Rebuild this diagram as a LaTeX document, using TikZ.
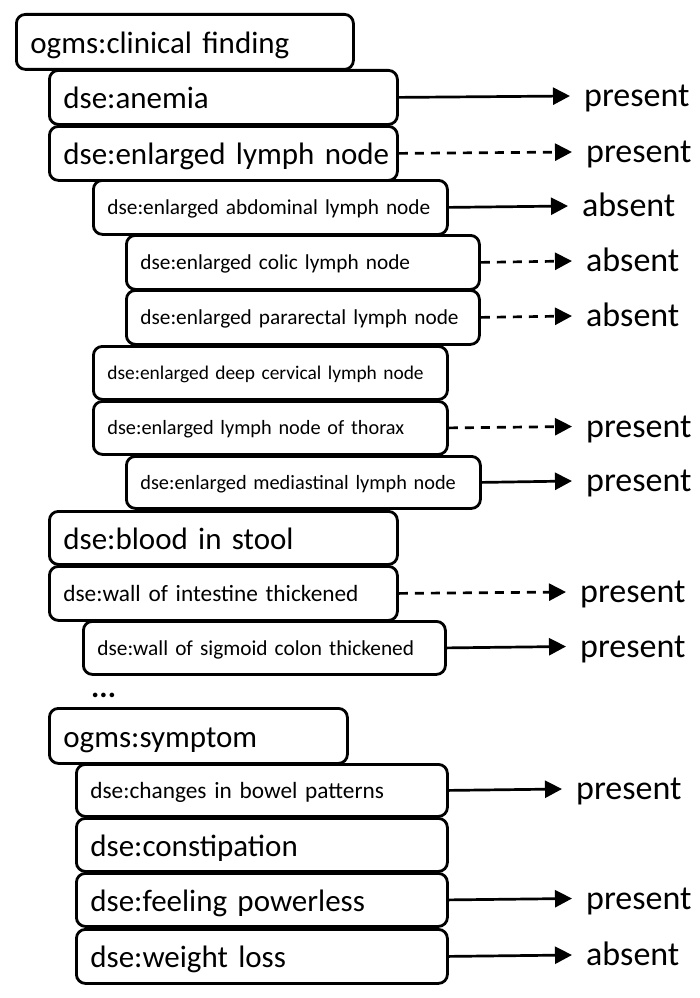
\documentclass[tikz,border=0pt]{standalone}
\usepackage{fontspec}
\setmainfont{Carlito}
\usetikzlibrary{arrows.meta}
\tikzset{
  box/.style={draw, line width=2.8pt, rounded corners=9pt, anchor=north west,
    align=left, inner xsep=14pt, inner ysep=0pt, text depth=0pt,
    execute at begin node={\hbox\bgroup}, execute at end node={\egroup}},
  big/.style={box, font=\fontsize{31}{31}\selectfont, text height=23pt},
  mid/.style={box, font=\fontsize{23.3}{24}\selectfont, text height=16pt},
  small/.style={box, font=\fontsize{21.3}{22}\selectfont, text height=15pt},
  smaller/.style={box, font=\fontsize{20.3}{21}\selectfont, text height=14pt},
  smallest/.style={box, font=\fontsize{19.4}{20}\selectfont, text height=14pt},
  lab/.style={anchor=west, inner xsep=14pt, inner ysep=0pt, text height=21.4pt,
    text depth=0pt, font=\fontsize{34}{34}\selectfont},
  link/.style={line width=2.7pt, -{Triangle[length=17pt,width=17pt]}},
  dashlink/.style={link, dash pattern=on 9pt off 7pt},
  more/.style={anchor=base west, inner sep=0pt, font=\fontsize{31}{31}\selectfont\bfseries},
}
\begin{document}
\begin{tikzpicture}[x=1pt,y=-1pt]
\useasboundingbox (0,0) rectangle (699,998);
\clip (0,0) rectangle (699,998);

% clinical findings
\node[big, text width=309pt, minimum height=55pt] (cf) at (15,13) {ogms:clinical finding};
\node[big, text width=320pt, minimum height=54pt] (anemia) at (48,69) {dse:anemia};
\node[big, text width=320pt, minimum height=54pt] (eln) at (48,125) {dse:enlarged lymph node};
\node[small, text width=326pt, minimum height=54pt] (abd) at (92,179) {dse:enlarged abdominal lymph node};
\node[small, text width=325pt, minimum height=54pt] (colic) at (125,234) {dse:enlarged colic lymph node};
\node[small, text width=325pt, minimum height=54pt] (para) at (125,289) {dse:enlarged pararectal lymph node};
\node[smallest, text width=326pt, minimum height=53pt] (deep) at (92,345) {dse:enlarged deep cervical lymph node};
\node[smaller, text width=326pt, minimum height=53pt] (thorax) at (92,400) {dse:enlarged lymph node of thorax};
\node[smaller, text width=326pt, minimum height=52pt] (medi) at (125,455) {dse:enlarged mediastinal lymph node};
\node[big, text width=320pt, minimum height=53pt] (blood) at (48,510) {dse:blood in stool};
\node[mid, text width=320pt, minimum height=54pt] (wall) at (48,565) {dse:wall of intestine thickened};
\node[small, text width=334pt, minimum height=53pt] (sigmoid) at (82,620) {dse:wall of sigmoid colon thickened};
\node[more] (more1) at (91,697) {...};

% symptoms
\node[big, text width=270pt, minimum height=55pt] (symptom) at (48,707) {ogms:symptom};
\node[mid, text width=343pt, minimum height=52pt] (bowel) at (75,763) {dse:changes in bowel patterns};
\node[big, text width=343pt, minimum height=53pt] (constip) at (75,817) {dse:constipation};
\node[big, text width=343pt, minimum height=53pt] (powerless) at (75,872) {dse:feeling powerless};
\node[big, text width=343pt, minimum height=54pt] (weight) at (75,928) {dse:weight loss};
\node[more] (more2) at (79,1004) {...};

% values
\node[lab] (v1) at (570,96) {present};
\node[lab] (v2) at (572,152) {present};
\node[lab] (v3) at (568,206) {absent};
\node[lab] (v4) at (572,261) {absent};
\node[lab] (v5) at (572,316) {absent};
\node[lab] (v6) at (572,426.5) {present};
\node[lab] (v7) at (572,481) {present};
\node[lab] (v8) at (566,592) {present};
\node[lab] (v9) at (566,646.5) {present};
\node[lab] (v10) at (562,789) {present};
\node[lab] (v11) at (572,898.5) {present};
\node[lab] (v12) at (572,955) {absent};

\draw[link] (anemia.east) -- (v1.west);
\draw[dashlink] (eln.east) -- (v2.west);
\draw[link] (abd.east) -- (v3.west);
\draw[dashlink] (colic.east) -- (v4.west);
\draw[dashlink] (para.east) -- (v5.west);
\draw[dashlink] (thorax.east) -- (v6.west);
\draw[link] (medi.east) -- (v7.west);
\draw[dashlink] (wall.east) -- (v8.west);
\draw[link] (sigmoid.east) -- (v9.west);
\draw[link] (bowel.east) -- (v10.west);
\draw[link] (powerless.east) -- (v11.west);
\draw[link] (weight.east) -- (v12.west);
\end{tikzpicture}
\end{document}
